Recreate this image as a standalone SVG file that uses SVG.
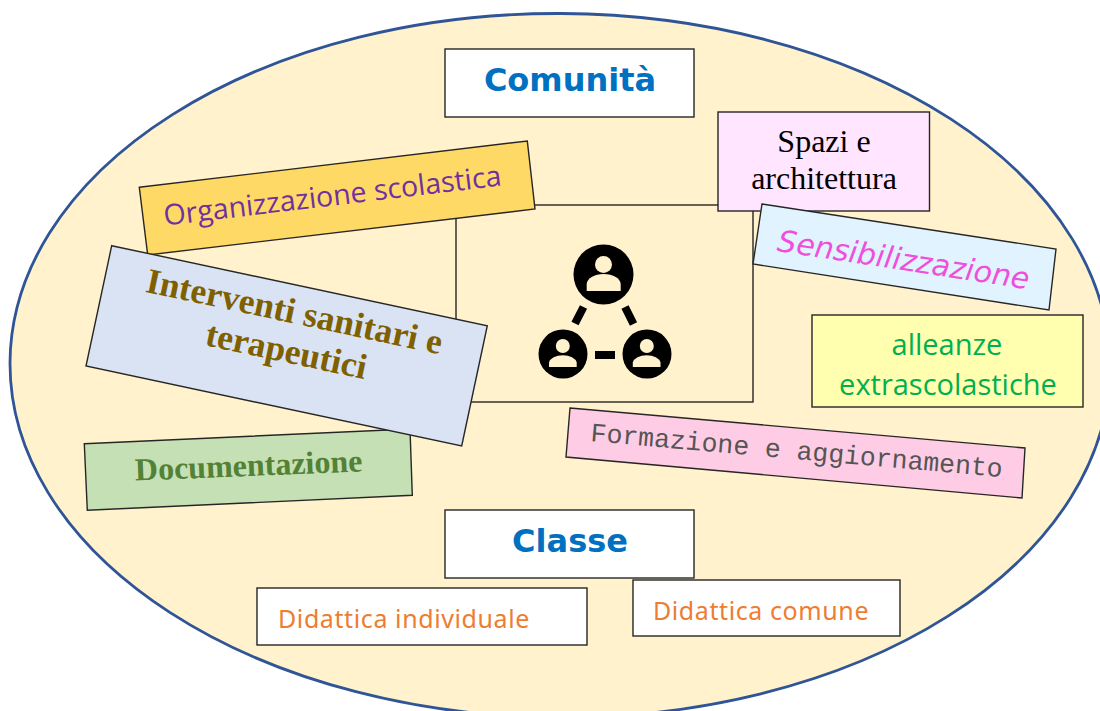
<svg xmlns="http://www.w3.org/2000/svg" width="1100" height="711" viewBox="0 0 1100 711">
<style>
.b{stroke:#262626;stroke-width:1.4}
text{text-anchor:middle}
.h{font-family:"DejaVu Sans",sans-serif;font-weight:bold;font-size:32px;fill:#0070C0}
.d{font-family:"Noto Sans",sans-serif;font-size:25px;letter-spacing:.6px;fill:#ED7D31}
.i{fill:#FFF2CC}
</style>
<rect width="1100" height="711" fill="#fff"/>
<ellipse id="sfondo" cx="560" cy="365.500" rx="550" ry="352" transform="rotate(.3 560 365.500)" fill="#FFF2CC" stroke="#2F5597" stroke-width="2.800"/>
<g id="centro">
<rect class="b" x="456" y="205" width="297" height="197" fill="#FFF2CC"/>
<circle cx="603.500" cy="274.500" r="30"/><circle cx="563" cy="354" r="24.500"/><circle cx="647" cy="354" r="24.500"/>
<circle class="i" cx="603.500" cy="264.500" r="8.500"/><path class="i" d="M586.700 291v-6.500a17 10.500 0 0 1 34 0v6.500z"/>
<circle class="i" cx="562.800" cy="346" r="7"/><path class="i" d="M549 367v-4.500a14 8.500 0 0 1 27.700 0v4.500z"/>
<circle class="i" cx="646.800" cy="346" r="7"/><path class="i" d="M632.800 367v-4.500a14 8.500 0 0 1 27.700 0v4.500z"/>
<path d="M583.500 307l-8.500 16.500M625 307l8.500 17" stroke="#000" stroke-width="8" fill="none"/>
<rect x="595" y="351" width="20" height="8"/>
</g>
<g id="comunita"><rect class="b" x="445" y="49" width="249" height="68" fill="#fff"/><text class="h" x="570" y="91">Comunità</text></g>
<g id="spazi"><rect class="b" x="718" y="112" width="211.500" height="99" fill="#FFE5FF"/>
<text x="824" y="152" font-family="Liberation Serif,serif" font-size="32">Spazi e</text><text x="824" y="189" font-family="Liberation Serif,serif" font-size="32">architettura</text></g>
<g id="organizzazione"><polygon class="b" points="139.300,187.300 527.300,141 535,209 147.700,255" fill="#FFD966"/>
<text transform="translate(333.500 205.500) rotate(-6.800)" font-family="Open Sans,sans-serif" font-size="28.600" fill="#7030A0">Organizzazione scolastica</text></g>
<g id="documentazione"><polygon class="b" points="84.300,443.700 410,429 412.300,495.300 87.300,510.300" fill="#C5E0B4"/>
<text transform="translate(249 476) rotate(-2.300)" font-family="Liberation Serif,serif" font-weight="bold" font-size="32" fill="#538135">Documentazione</text></g>
<g id="interventi"><polygon class="b" points="111.700,245.700 487.300,325.700 461.700,446 86,366" fill="#DAE3F3"/>
<text transform="translate(292 323) rotate(12)" font-family="Liberation Serif,serif" font-weight="bold" font-size="35.500" fill="#7F6000">Interventi sanitari e</text>
<text transform="translate(284 362) rotate(12)" font-family="Liberation Serif,serif" font-weight="bold" font-size="35.500" fill="#7F6000">terapeutici</text></g>
<g id="sensibilizzazione"><polygon class="b" points="762,204 1056,249 1049,310 753,264" fill="#E1F3FF"/>
<text transform="translate(902 270) rotate(8.700)" font-family="DejaVu Sans,sans-serif" font-style="oblique" font-size="30" fill="#EE4FDB">Sensibilizzazione</text></g>
<g id="alleanze"><rect class="b" x="812" y="315" width="271" height="92" fill="#FFFFAF"/>
<text x="947" y="355" font-family="Open Sans,sans-serif" font-size="29" fill="#00B050">alleanze</text><text x="948" y="395" font-family="Open Sans,sans-serif" font-size="29" fill="#00B050">extrascolastiche</text></g>
<g id="formazione"><polygon class="b" points="570,408 1025,448 1022,498 566,457" fill="#FFCCE5"/>
<text transform="translate(796 459) rotate(5)" font-family="Liberation Mono,monospace" font-size="26.500" fill="#555">Formazione e aggiornamento</text></g>
<g id="classe"><rect class="b" x="445" y="510" width="249" height="68" fill="#fff"/><text class="h" x="570" y="552">Classe</text></g>
<g id="didattica-individuale"><rect class="b" x="257" y="588" width="330" height="57" fill="#fff"/><text class="d" x="404" y="628">Didattica individuale</text></g>
<g id="didattica-comune"><rect class="b" x="633" y="580" width="267" height="56" fill="#fff"/><text class="d" x="761" y="620">Didattica comune</text></g>
</svg>
